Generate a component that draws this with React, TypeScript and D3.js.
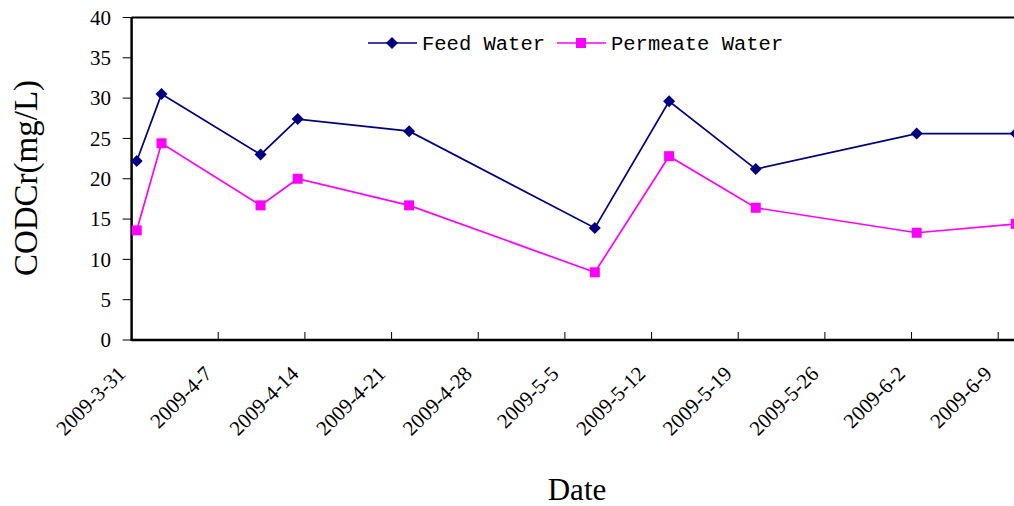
import React from "react";
import * as d3 from "d3";

const dates = ["2009-3-31", "2009-4-2", "2009-4-10", "2009-4-13", "2009-4-22", "2009-5-7", "2009-5-13", "2009-5-20", "2009-6-2", "2009-6-10"];
const feedWater = [22.2, 30.5, 23.0, 27.4, 25.9, 13.9, 29.6, 21.2, 25.6, 25.6];
const permeateWater = [13.6, 24.4, 16.7, 20.0, 16.7, 8.4, 22.8, 16.4, 13.3, 14.4];
const xTickLabels = ["2009-3-31", "2009-4-7", "2009-4-14", "2009-4-21", "2009-4-28", "2009-5-5", "2009-5-12", "2009-5-19", "2009-5-26", "2009-6-2", "2009-6-9"];
const yTicks = [0, 5, 10, 15, 20, 25, 30, 35, 40];

const parse = (s: string) => {
  const [y, m, d] = s.split("-").map(Number);
  return new Date(y, m - 1, d);
};

export default function App() {
  const W = 1014, H = 506;
  const left = 131.6, top = 17.5, bottom = 340;
  const start = parse("2009-3-31");
  const dayPx = 12.38;
  const end = d3.timeDay.offset(start, 75);
  const x = d3.scaleTime().domain([start, end]).range([left, left + 75 * dayPx]);
  const xc = (s: string) => x(d3.timeHour.offset(parse(s), 10));
  const y = d3.scaleLinear().domain([0, 40]).range([bottom, top]);
  const line = d3.line<[number, number]>().x(d => d[0]).y(d => d[1]);
  const feedPts: [number, number][] = dates.map((d, i) => [xc(d), y(feedWater[i])]);
  const permPts: [number, number][] = dates.map((d, i) => [xc(d), y(permeateWater[i])]);
  const serif = "Liberation Serif";
  const mono = "Liberation Mono";
  const diamond = (cx: number, cy: number, r: number) => `M${cx},${cy - r}L${cx + r},${cy}L${cx},${cy + r}L${cx - r},${cy}Z`;
  const navy = "#000080";
  const mag = "#FF00FF";
  return (
    <svg width={W} height={H} style={{ position: "absolute", left: 0, top: 0 }}>
      <rect width={W} height={H} fill="#fff" />
      {yTicks.map(t => (
        <g key={t}>
          <line x1={left - 9} x2={left} y1={y(t)} y2={y(t)} stroke="#000" strokeWidth={1} />
          <text x={111} y={y(t)} dy="0.35em" textAnchor="end" style={{ fontFamily: serif }} fontSize={21}>{t}</text>
        </g>
      ))}
      {xTickLabels.map((s, i) => {
        const xv = x(parse(s));
        return (
          <g key={s}>
            {i > 0 && <line x1={xv} x2={xv} y1={bottom} y2={bottom - 8} stroke="#000" strokeWidth={1} />}
            <text transform={`translate(${xv - 5},${bottom + 35}) rotate(-45)`} textAnchor="end" style={{ fontFamily: serif }} fontSize={21}>{s}</text>
          </g>
        );
      })}
      <line x1={left} x2={left} y1={top} y2={bottom + 1} stroke="#000" strokeWidth={2.5} />
      <line x1={left} x2={W + 5} y1={bottom} y2={bottom} stroke="#000" strokeWidth={2.5} />
      <line x1={left} x2={W + 5} y1={top} y2={top} stroke="#000" strokeWidth={2} />
      <path d={line(feedPts) || ""} fill="none" stroke={navy} strokeWidth={1.7} />
      <path d={line(permPts) || ""} fill="none" stroke={mag} strokeWidth={1.7} />
      {feedPts.map((p, i) => <path key={i} d={diamond(p[0], p[1], 6)} fill={navy} />)}
      {permPts.map((p, i) => <rect key={i} x={p[0] - 5} y={p[1] - 5} width={10} height={10} fill={mag} />)}
      <line x1={368} x2={417} y1={43} y2={43} stroke={navy} strokeWidth={1.7} />
      <path d={diamond(392, 43, 6)} fill={navy} />
      <text x={422} y={43} dy="0.35em" style={{ fontFamily: mono }} fontSize={20.5} fill="#000">Feed Water</text>
      <line x1={557} x2={606} y1={43} y2={43} stroke={mag} strokeWidth={1.7} />
      <rect x={576} y={38} width={10} height={10} fill={mag} />
      <text x={611} y={43} dy="0.35em" style={{ fontFamily: mono }} fontSize={20.5} fill="#000">Permeate Water</text>
      <text transform={`translate(37,178) rotate(-90)`} textAnchor="middle" style={{ fontFamily: serif }} fontSize={33}>CODCr(mg/L)</text>
      <text x={577} y={500} textAnchor="middle" style={{ fontFamily: serif }} fontSize={31}>Date</text>
    </svg>
  );
}
